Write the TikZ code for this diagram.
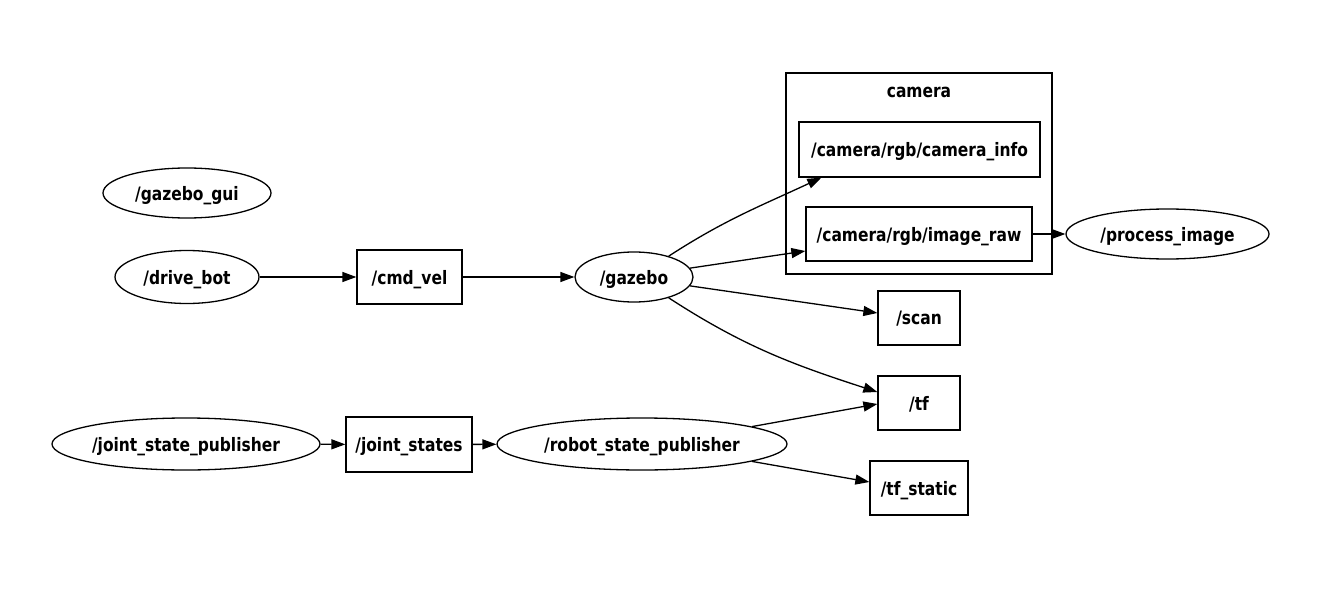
\documentclass[tikz,border=0pt]{standalone}
\usepackage{fontspec}
\newfontfamily\gfont{DejaVu Sans Condensed}[FakeStretch=0.93]
\usetikzlibrary{shapes.geometric,arrows.meta,calc}
\tikzset{
  lbl/.style={font=\gfont\bfseries\fontsize{18.5}{20}\selectfont, text depth=0pt},
  base/.style={draw, line width=1.3pt, inner sep=0pt, lbl},
  topic/.style={base, rectangle},
  nodeell/.style={base, ellipse},
  edge/.style={line width=1.3pt, -{Triangle[length=14pt,width=10pt]}},
}
\begin{document}
\begin{tikzpicture}[x=1pt,y=-1pt]
\useasboundingbox (0,0) rectangle (1319,591);
% cluster
\draw[line width=1.3pt] (786,73) rectangle (1052,274);
\node[lbl] (camlbl) at (919,92) {camera};
% ellipses
\node[nodeell, minimum width=168pt, minimum height=50pt] (gui) at (187,193) {/gazebo\_gui};
\node[nodeell, minimum width=144pt, minimum height=53pt] (drive) at (187,277) {/drive\_bot};
\node[nodeell, minimum width=118pt, minimum height=50pt] (gaz) at (634,277) {/gazebo};
\node[nodeell, minimum width=203pt, minimum height=50pt] (proc) at (1167.5,234) {/process\_image};
\node[nodeell, minimum width=268pt, minimum height=52pt] (jsp) at (186,444) {/joint\_state\_publisher};
\node[nodeell, minimum width=290pt, minimum height=52pt] (rsp) at (642,444) {/robot\_state\_publisher};
% topics
\node[topic, minimum width=105pt, minimum height=54pt] (cmd) at (409.5,277) {/cmd\_vel};
\node[topic, minimum width=241pt, minimum height=55pt] (ci) at (919.5,149.5) {/camera/rgb/camera\_info};
\node[topic, minimum width=226pt, minimum height=54pt] (ir) at (919,234) {/camera/rgb/image\_raw};
\node[topic, minimum width=82pt, minimum height=54pt] (scan) at (919,318) {/scan};
\node[topic, minimum width=82pt, minimum height=54pt] (tf) at (919,403) {/tf};
\node[topic, minimum width=98pt, minimum height=54pt] (tfs) at (919,488) {/tf\_static};
\node[topic, minimum width=126pt, minimum height=55pt] (js) at (409,444.5) {/joint\_states};
% edges
\draw[edge] (drive) -- (cmd);
\draw[edge] (cmd) -- (gaz);
\draw[edge] (gaz.31) to[out=33,in=205] ($(ci.south west)+(23,0)$);
\draw[edge] (gaz.9) -- ($(ir.west)+(0,17)$);
\draw[edge] (ir) -- (proc);
\draw[edge] (gaz.-9) -- ($(scan.west)+(0,-5)$);
\draw[edge] (gaz.-31) to[out=-33,in=162] ($(tf.west)+(0,-11)$);
\draw[edge] (rsp.9) -- ($(tf.west)+(0,1)$);
\draw[edge] (rsp.-9) -- ($(tfs.west)+(0,-6)$);
\draw[edge] (jsp) -- (js);
\draw[edge] (js) -- (rsp);
\end{tikzpicture}
\end{document}
